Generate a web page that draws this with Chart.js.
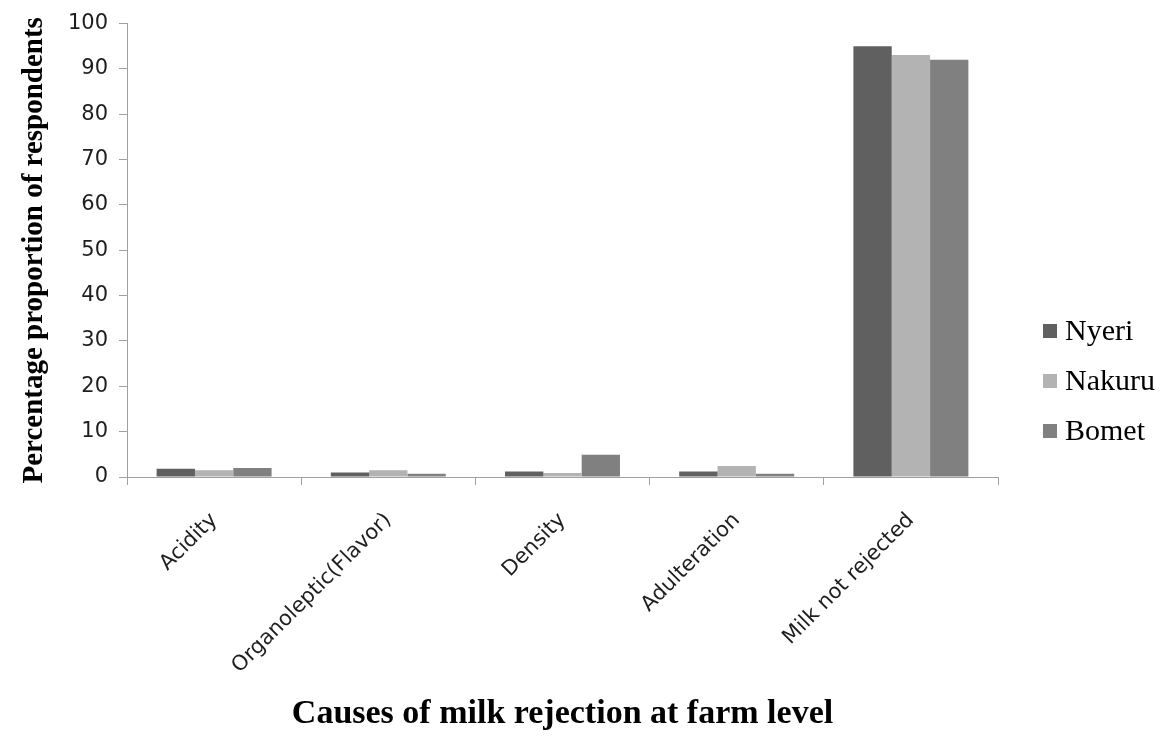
<!DOCTYPE html>
<html>
<head>
<meta charset="utf-8">
<script src="https://cdn.jsdelivr.net/npm/chart.js@4.4.1/dist/chart.umd.min.js"></script>
<style>
  html, body { margin: 0; padding: 0; background: #ffffff; }
  #wrap { width: 1169px; height: 738px; }
</style>
</head>
<body>
<div id="wrap"><canvas id="c" width="1169" height="738"></canvas></div>
<script>
// Causes of milk rejection at farm level, by county (% of respondents)
const categories = ["Acidity", "Organoleptic(Flavor)", "Density", "Adulteration", "Milk not rejected"];
const seriesNames = ["Nyeri", "Nakuru", "Bomet"];
const nyeri  = [1.8, 1.0, 1.2, 1.2, 95.0];
const nakuru = [1.5, 1.5, 0.9, 2.4, 93.1];
const bomet  = [2.0, 0.7, 4.9, 0.7, 92.0];
const yTicks = [0, 10, 20, 30, 40, 50, 60, 70, 80, 90, 100];

const colors = ["#606060", "#b3b3b3", "#808080"];
const axisColor = "#a0a0a0";

// Legend drawn in the right margin, one entry per dataset
const sideLegend = {
  id: "sideLegend",
  afterDraw(chart) {
    const ctx = chart.ctx;
    ctx.save();
    ctx.font = "30px 'Liberation Serif'";
    ctx.textBaseline = "middle";
    ctx.textAlign = "left";
    chart.data.datasets.forEach((ds, i) => {
      const y = 331 + i * 50;
      ctx.fillStyle = ds.backgroundColor;
      ctx.fillRect(1043, y - 7, 14, 14);
      ctx.fillStyle = "#000000";
      ctx.fillText(ds.label, 1065, y + 1);
    });
    ctx.restore();
  }
};

new Chart(document.getElementById("c"), {
  type: "bar",
  data: {
    labels: categories,
    datasets: [
      { label: seriesNames[0], data: nyeri,  backgroundColor: colors[0] },
      { label: seriesNames[1], data: nakuru, backgroundColor: colors[1] },
      { label: seriesNames[2], data: bomet,  backgroundColor: colors[2] }
    ]
  },
  options: {
    responsive: false,
    animation: false,
    layout: { padding: { left: 0, right: 171, top: 20, bottom: 0 } },
    datasets: { bar: { categoryPercentage: 0.66, barPercentage: 1.0 } },
    plugins: {
      legend: { display: false },
      tooltip: { enabled: false }
    },
    scales: {
      x: {
        grid: { display: true, drawOnChartArea: false, drawTicks: true, tickLength: 8, color: axisColor, offset: true },
        border: { display: true, color: axisColor, width: 1 },
        ticks: {
          color: "#1e1e1e",
          font: { family: "'DejaVu Sans'", size: 21 },
          maxRotation: 45, minRotation: 45,
          padding: 23,
          autoSkip: false
        },
        title: {
          display: true,
          text: "Causes of milk rejection at farm level",
          color: "#000000",
          font: { family: "'Liberation Serif'", size: 34, weight: "bold" },
          padding: { top: 0, bottom: 3 }
        },
        afterFit(scale) { scale.height = 261; }
      },
      y: {
        min: 0, max: 100,
        afterBuildTicks(scale) { scale.ticks = yTicks.map(v => ({ value: v })); },
        grid: { display: true, drawOnChartArea: false, drawTicks: true, tickLength: 8, color: axisColor },
        border: { display: true, color: axisColor, width: 1 },
        ticks: {
          color: "#1e1e1e",
          font: { family: "'DejaVu Sans'", size: 21 },
          padding: 11
        },
        title: {
          display: true,
          text: "Percentage proportion of respondents",
          color: "#000000",
          font: { family: "'Liberation Serif'", size: 29, weight: "bold" },
          padding: { top: 17, bottom: 0 }
        },
        afterFit(scale) { scale.width = 127; }
      }
    }
  },
  plugins: [sideLegend]
});
</script>
</body>
</html>
